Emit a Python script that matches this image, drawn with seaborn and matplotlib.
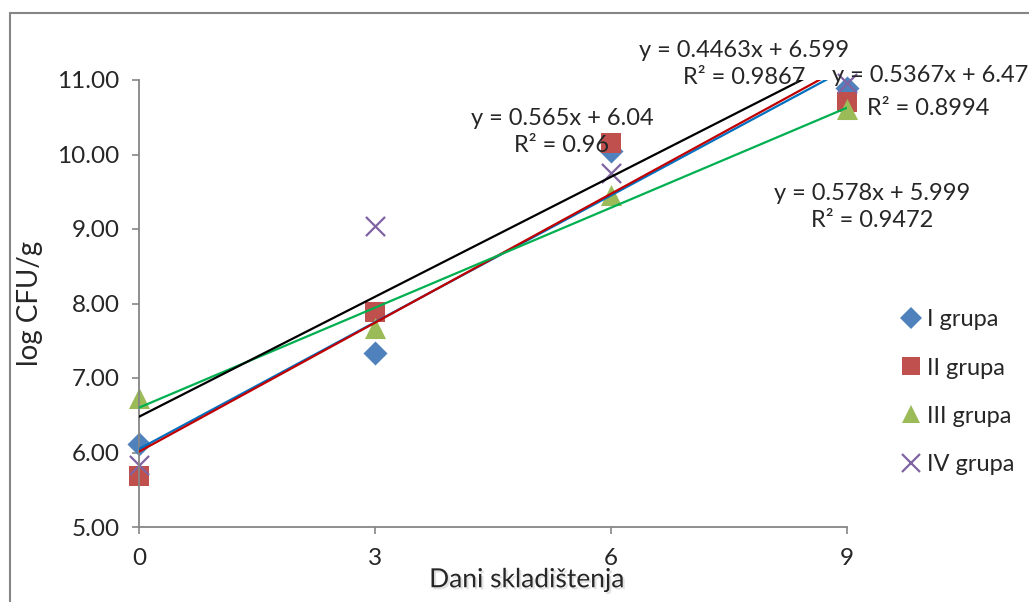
import numpy as np
import pandas as pd
import seaborn as sns
from matplotlib import pyplot as plt
from matplotlib import patheffects as pe
from matplotlib.lines import Line2D

sns.set_style("white")
plt.rcParams['font.family'] = ['Lato', 'DejaVu Sans']

# dani skladistenja
dani = [0, 3, 6, 9]
grupe = ["I grupa", "II grupa", "III grupa", "IV grupa"]
# log CFU/g po grupama
grupa_1 = [6.12, 7.34, 10.05, 10.89]
grupa_2 = [5.69, 7.88, 10.16, 10.70]
grupa_3 = [6.73, 7.67, 9.45, 10.61]
grupa_4 = [5.83, 9.04, 9.75, 10.96]

# jednacine trenda (tekst kao u originalu)
jednacine = ["y = 0.565x + 6.04\nR² = 0.96",
             "y = 0.578x + 5.999\nR² = 0.9472",
             "y = 0.4463x + 6.599\nR² = 0.9867",
             "y = 0.5367x + 6.47\nR² = 0.8994"]

vrednosti = [grupa_1, grupa_2, grupa_3, grupa_4]
df = pd.DataFrame({"dan": dani * 4,
                   "cfu": sum(vrednosti, []),
                   "grupa": [g for g in grupe for _ in dani]})

boje = ["#4F81BD", "#C0504D", "#9BBB59", "#8064A2"]
markeri = ["D", "s", "^", "x"]
velicine = [150, 210, 230, 190]
boje_trend = ["#0070C0", "#C00000", "#00B050", "#000000"]

fig = plt.figure(figsize=(10.29, 6.02), dpi=100)
ax = fig.add_axes([139/1029, 1-527/602, 708/1029, 447/602])

for i, g in enumerate(grupe):
    d = df[df.grupa == g]
    sns.scatterplot(data=d, x="dan", y="cfu", ax=ax, color=boje[i], marker=markeri[i],
                    s=velicine[i], linewidth=1.6 if markeri[i] == "x" else 0,
                    clip_on=False, zorder=2 + i * 0.1, legend=False)

for i, g in enumerate(grupe):
    d = df[df.grupa == g]
    sns.regplot(data=d, x="dan", y="cfu", ax=ax, scatter=False, ci=None,
                color=boje_trend[i], line_kws={"lw": 1.6, "zorder": 3})

ax.set_xlim(0, 9)
ax.set_ylim(5, 11)
ax.set_xticks(dani)
ax.set_yticks(np.arange(5, 12, 1))
ax.set_yticklabels(["%.2f" % v for v in np.arange(5, 12, 1)])
ax.tick_params(axis="both", labelsize=17.5, length=5, width=1.2, color="#868686",
               direction="out", left=True, bottom=True)
ax.tick_params(axis="x", pad=10)
ax.tick_params(axis="y", pad=9)
for s in ["top", "right"]:
    ax.spines[s].set_visible(False)
for s in ["left", "bottom"]:
    ax.spines[s].set_color("#868686")
    ax.spines[s].set_linewidth(1.3)

ax.set_ylabel("log CFU/g", fontsize=20, labelpad=10)
xl = ax.set_xlabel("Dani skladištenja", fontsize=19, va="center")
ax.xaxis.set_label_coords(0.548, -0.118)
xl.set_path_effects([pe.SimplePatchShadow(offset=(1.5, -1.5), shadow_rgbFace="#aaaaaa", alpha=0.35),
                     pe.Normal()])

# pozicije jednacina (u pikselima slike)
poz = [(562, 132), (872, 207), (744, 64), (832, 75)]
for i, t in enumerate(jednacine):
    x, y = poz[i]
    if i == 3:
        fig.text(x/1029, 1-y/602, t.split("\n")[0], fontsize=17, ha="left", va="center")
        fig.text(928/1029, 1-108/602, t.split("\n")[1], fontsize=17, ha="center", va="center")
    else:
        fig.text(x/1029, 1-y/602, t, fontsize=17, ha="center", va="center",
                 linespacing=1.3)

ruke = [Line2D([], [], ls="", marker=markeri[i], color=boje[i],
               markersize=13 if markeri[i] != "D" else 11,
               markeredgewidth=1.6 if markeri[i] == "x" else 0) for i in range(4)]
fig.legend(ruke, grupe, loc="upper left", bbox_to_anchor=(892/1029, 1-300/602),
           frameon=False, fontsize=17, handlelength=0.8, handletextpad=0.3,
           labelspacing=1.15, borderaxespad=0)

# okvir grafikona
fig.add_artist(Line2D([10/1029, 10/1029], [0, 1-13/602], color="#868686", lw=1.5))
fig.add_artist(Line2D([10/1029, 1], [1-13/602, 1-13/602], color="#868686", lw=1.5))

fig.savefig("out.png", dpi=100)
